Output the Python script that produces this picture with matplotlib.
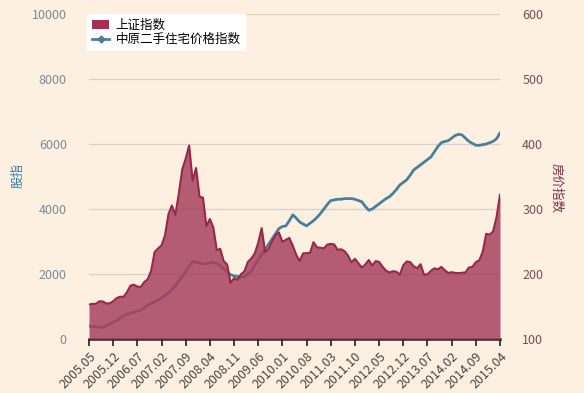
import matplotlib
matplotlib.use("Agg")
import matplotlib.pyplot as plt
from matplotlib.patches import Patch
from matplotlib.lines import Line2D
from matplotlib.transforms import ScaledTranslation

plt.rcParams['font.family'] = ['Noto Sans CJK SC', 'DejaVu Sans']

months = []
y, m = 2005, 5
for _ in range(120):
    months.append(f"{y}.{m:02d}")
    m += 1
    if m > 12:
        m = 1
        y += 1

sh_index = [
    1060, 1080, 1083, 1162, 1155, 1092, 1099, 1161,
    1258, 1299, 1298, 1440, 1641, 1672, 1612, 1601, 1752, 1837, 2099, 2675,
    2786, 2881, 3183, 3841, 4109, 3820, 4471, 5218, 5552, 5954, 4871, 5262,
    4383, 4348, 3473, 3693, 3433, 2736, 2775, 2397, 2293, 1728, 1871, 1821,
    1991, 2082, 2373, 2478, 2633, 2959, 3412, 2667, 2779, 2996, 3195, 3277,
    2989, 3051, 3110, 2871, 2592, 2398, 2638, 2639, 2656, 2979, 2820, 2808,
    2791, 2905, 2928, 2911, 2743, 2762, 2701, 2568, 2359, 2468, 2333, 2199,
    2292, 2428, 2262, 2397, 2373, 2225, 2103, 2047, 2086, 2069, 1980, 2269,
    2385, 2366, 2237, 2178, 2301, 1979, 1994, 2098, 2175, 2141, 2220, 2116,
    2033, 2056, 2033, 2026, 2039, 2048, 2201, 2217, 2364, 2420, 2683, 3235,
    3210, 3310, 3748, 4441,
]

house_index = [
    120, 119, 119, 118, 118, 120, 123, 126, 128, 132,
    136, 138, 140, 141, 143, 145, 148, 152, 155, 157,
    160, 163, 167, 171, 176, 182, 189, 196, 204, 212,
    219, 218, 217, 216, 216, 217, 218, 216, 213, 208,
    203, 199, 197, 196, 195, 196, 200, 205, 213, 222,
    230, 238, 246, 254, 262, 270, 273, 274, 282, 291,
    286, 280, 277, 274, 278, 282, 287, 293, 300, 307,
    313, 314, 315, 315, 316, 316, 316, 315, 313, 311,
    304, 298, 300, 304, 308, 312, 316, 319, 324, 330,
    337, 341, 345, 352, 360, 364, 368, 372, 376, 380,
    388, 396, 402, 404, 405, 409, 413, 415, 414, 409,
    404, 401, 398, 398, 399, 400, 402, 404, 408, 417,
]

left_ticks = [0, 2000, 4000, 6000, 8000, 10000]
right_ticks = [100, 200, 300, 400, 500, 600]

bg = '#FDF0E1'
fill_color = '#A6425F'
edge_color = '#962848'
line_color = '#4A7F9C'

fig = plt.figure(figsize=(5.84, 3.93), dpi=100, facecolor=bg)
ax = fig.add_axes([89/584, 1-339/393, (500-89)/584, (339-14)/393])
ax2 = ax.twinx()
ax.set_zorder(2)
ax2.set_zorder(1)
ax.patch.set_visible(False)
ax2.patch.set_facecolor(bg)

x = list(range(len(months)))

ax2.plot(x, house_index, color=line_color, lw=2.0, zorder=2)
ax.fill_between(x, sh_index, 0, color=fill_color, alpha=0.85, lw=0, zorder=3)
ax.plot(x, sh_index, color=edge_color, lw=1.5, zorder=4)

ax.set_xlim(0, len(months) - 1)
ax.set_ylim(0, 10000)
ax2.set_ylim(100, 600)
ax.set_yticks(left_ticks)
ax2.set_yticks(right_ticks)

for yv in left_ticks[1:]:
    ax2.axhline(100 + yv / 20, color='#D9D3CB', lw=1.0, zorder=1)

tick_pos = list(range(0, len(months), 7))
ax.set_xticks(tick_pos)
ax.set_xticklabels([months[i] for i in tick_pos], rotation=45, ha='right',
                   rotation_mode='anchor', fontsize=9, color='#444444')
offset = ScaledTranslation(4/100, 0, fig.dpi_scale_trans)
for lbl in ax.get_xticklabels():
    lbl.set_transform(lbl.get_transform() + offset)
ax.tick_params(axis='x', length=5, width=1.2, color='#222222', pad=3)
ax.tick_params(axis='y', length=0, labelsize=9, labelcolor='#7A8A98', pad=16)
ax2.tick_params(axis='y', length=0, labelsize=9, labelcolor='#7E4A52', pad=16)
ax2.tick_params(axis='x', length=0)

for s in ['top', 'left', 'right']:
    ax.spines[s].set_visible(False)
    ax2.spines[s].set_visible(False)
ax.spines['bottom'].set_color('#222222')
ax.spines['bottom'].set_linewidth(1.8)
ax2.spines['bottom'].set_visible(False)

fig.text(18/584, 1-175/393, '股指', rotation=90, ha='center', va='center',
         fontsize=9, color='#3F7A9A')
fig.text(556/584, 1-188/393, '房价指数', rotation=270, ha='center', va='center',
         fontsize=9, color='#7A2A40')

handles = [Patch(facecolor='#A3304E', edgecolor='none'),
           Line2D([0], [0], color=line_color, lw=2, marker='D', markersize=3.5)]
leg = ax.legend(handles, ['上证指数', '中原二手住宅价格指数'], loc='upper left',
                bbox_to_anchor=(-0.005, 1.0), borderaxespad=0, frameon=True,
                fancybox=False, fontsize=9, handlelength=1.4, handletextpad=0.5,
                labelspacing=0.1, borderpad=0.4)
leg.get_frame().set_facecolor('white')
leg.get_frame().set_edgecolor('none')
leg.get_frame().set_alpha(1)

fig.savefig('out.png', dpi=100, facecolor=bg)
